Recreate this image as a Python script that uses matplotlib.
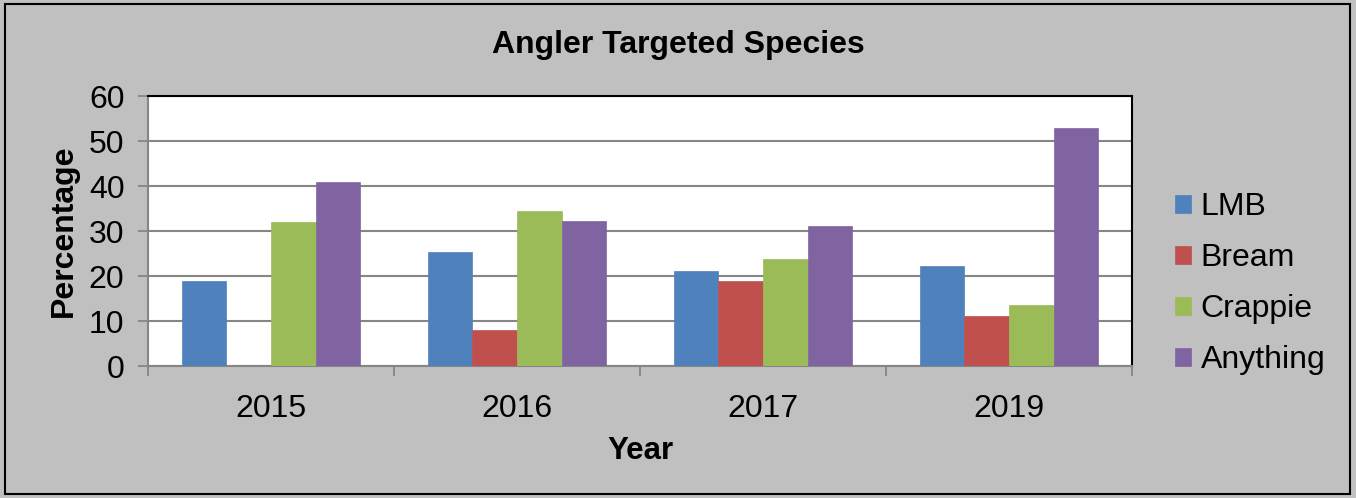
import matplotlib
matplotlib.use("Agg")
import matplotlib.pyplot as plt
from matplotlib.patches import Rectangle
import numpy as np

plt.rcParams['font.family'] = ['Liberation Sans', 'DejaVu Sans']

years = ["2015", "2016", "2017", "2019"]
series = ["LMB", "Bream", "Crappie", "Anything"]
lmb = [19.0, 25.3, 21.2, 22.2]
bream = [0.0, 8.0, 18.8, 11.1]
crappie = [32.0, 34.5, 23.8, 13.6]
anything = [41.0, 32.3, 31.2, 53.0]
colors = ["#4F81BD", "#C0504D", "#9BBB59", "#8064A2"]

bg = "#C0C0C0"
axis_gray = "#868686"

fig = plt.figure(figsize=(13.56, 4.98), dpi=100, facecolor=bg)
ax = fig.add_axes([148/1356, 1-366/498, (1132-148)/1356, (366-96)/498])
ax.set_facecolor("white")

x = np.arange(len(years))
w = 1/5.5
data = [lmb, bream, crappie, anything]
for i, (name, vals, c) in enumerate(zip(series, data, colors)):
    ax.bar(x + (i-1.5)*w, vals, width=w, color=c, label=name,
           edgecolor=c, linewidth=0.5, zorder=3)

ax.set_xlim(-0.5, len(years)-0.5)
ax.set_ylim(0, 60)
ax.set_yticks(range(0, 61, 10))
ax.set_xticks(x)
ax.set_xticklabels(years)
ax.set_xticks(np.arange(-0.5, len(years)), minor=True)
ax.tick_params(axis='x', which='major', length=0, labelsize=23, pad=20)
ax.tick_params(axis='x', which='minor', length=7, width=1.3, color=axis_gray, direction='out')
ax.tick_params(axis='y', length=7, width=1.3, color=axis_gray, direction='out', labelsize=23, pad=10)

ax.yaxis.grid(True, color=axis_gray, linewidth=1.5, zorder=0)
ax.set_axisbelow(True)

for s in ['left', 'bottom']:
    ax.spines[s].set_color(axis_gray)
    ax.spines[s].set_linewidth(1.5)
for s in ['top', 'right']:
    ax.spines[s].set_color("black")
    ax.spines[s].set_linewidth(1.5)

ax.set_xlabel("Year", fontsize=22.5, fontweight='bold', labelpad=9)
ax.set_ylabel("Percentage", fontsize=23, fontweight='bold', labelpad=7)

fig.text(0.5, 1-45/498, "Angler Targeted Species", ha='center', va='center',
         fontsize=23, fontweight='bold')

leg = ax.legend(loc='center left', frameon=False,
                fontsize=23, handlelength=0.5, handleheight=0.5,
                handletextpad=0.3, labelspacing=0.66, borderpad=0, borderaxespad=0)
leg.set_bbox_to_anchor((1.044, 0.305), transform=ax.transAxes)

fig.patches.append(Rectangle((5/1356, 4/498), 1345/1356, 490/498,
                             transform=fig.transFigure, fill=False,
                             edgecolor='black', linewidth=1.5))

fig.savefig("out.png", dpi=100, facecolor=bg)
